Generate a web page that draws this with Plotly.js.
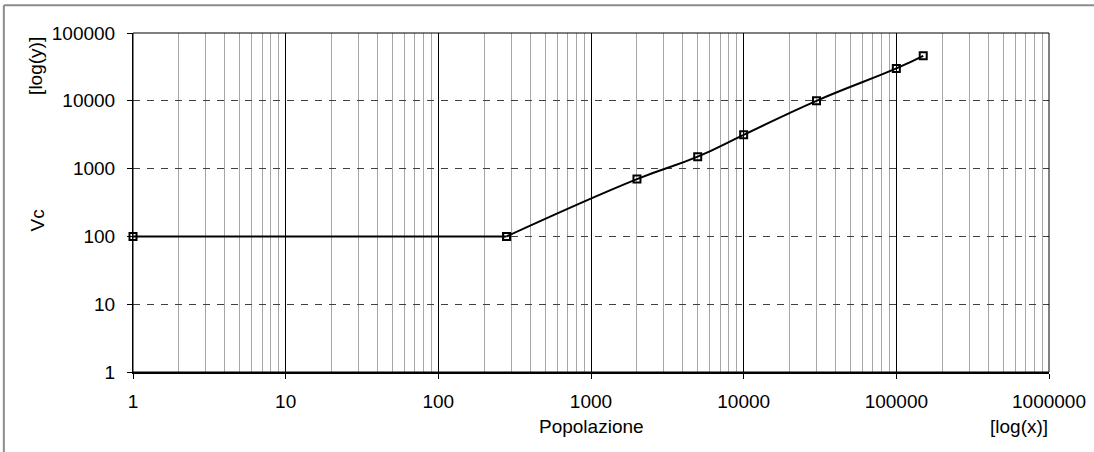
<!DOCTYPE html>
<html>
<head>
<meta charset="utf-8">
<script src="https://cdn.plot.ly/plotly-3.0.1.min.js"></script>
<style>
  html, body { margin: 0; padding: 0; background: #fff; }
  #chart { width: 1094px; height: 452px; }
</style>
</head>
<body>
<div id="chart"></div>
<script>
// Popolazione (abitanti) e valore Vc corrispondente
const popolazione = [1, 280, 2000, 5000, 10000, 30000, 100000, 150000];
const vc = [100, 100, 700, 1500, 3150, 10000, 30000, 46000];

// Etichette degli assi
const xTitle = 'Popolazione';
const xScaleNote = '[log(x)]';
const yTitle = 'Vc';
const yScaleNote = '[log(y)]';

const FONT = '"Liberation Sans", Arial, Helvetica, sans-serif';
const FS = 19;

// Tratto costante (fino alla soglia) e tratto crescente, raccordato con spline
const flatX = popolazione.slice(0, 2), flatY = vc.slice(0, 2);
const riseX = popolazione.slice(1), riseY = vc.slice(1);

const markerStyle = {
  symbol: 'square-open', size: 7, color: '#000',
  line: { color: '#000', width: 2 }
};

const traces = [
  {
    x: flatX, y: flatY, type: 'scatter', mode: 'lines+markers',
    line: { color: '#000', width: 2 }, marker: markerStyle,
    hoverinfo: 'x+y', showlegend: false, cliponaxis: false
  },
  {
    x: riseX, y: riseY, type: 'scatter', mode: 'lines+markers',
    line: { color: '#000', width: 2, shape: 'spline', smoothing: 1.3 },
    marker: markerStyle,
    hoverinfo: 'x+y', showlegend: false, cliponaxis: false
  }
];

const layout = {
  width: 1094, height: 452,
  margin: { l: 133, r: 45, t: 33, b: 80 },
  paper_bgcolor: '#fff', plot_bgcolor: '#fff',
  font: { family: FONT, size: FS, color: '#000' },
  showlegend: false,
  xaxis: {
    type: 'log', range: [0, 6], dtick: 1, tickformat: 'd',
    showgrid: true, gridcolor: '#000', gridwidth: 1,
    minor: { dtick: 'D1', showgrid: true, gridcolor: '#a6a6a6', gridwidth: 1, ticks: '' },
    showline: true, linecolor: '#000', linewidth: 2,
    ticks: 'outside', ticklen: 5, tickcolor: '#000', tickwidth: 1,
    ticklabelstandoff: 6,
    zeroline: false, fixedrange: true
  },
  yaxis: {
    type: 'log', range: [0, 5], dtick: 1, tickformat: 'd',
    showgrid: true, gridcolor: '#404040', gridwidth: 1, griddash: '7px,7px',
    showline: true, linecolor: '#000', linewidth: 1,
    ticks: 'outside', ticklen: 5, tickcolor: '#000', tickwidth: 1,
    ticklabelstandoff: 8,
    zeroline: false, fixedrange: true
  },
  shapes: [
    // cornice dell'area del grafico
    { type: 'rect', xref: 'paper', yref: 'paper', x0: 0, x1: 1, y0: 0, y1: 1,
      line: { color: '#000', width: 1 }, layer: 'above' },
    // bordo esterno (lati superiore e sinistro)
    { type: 'line', xref: 'paper', yref: 'paper', x0: -0.141, x1: 1.06, y0: 1.082, y1: 1.082,
      line: { color: '#8c8c8c', width: 2 } },
    { type: 'line', xref: 'paper', yref: 'paper', x0: -0.141, x1: -0.141, y0: 1.082, y1: -0.25,
      line: { color: '#8c8c8c', width: 2 } }
  ],
  annotations: [
    { text: xTitle, xref: 'paper', yref: 'paper', x: 0.5, y: -0.162,
      xanchor: 'center', yanchor: 'middle', showarrow: false, font: { size: FS } },
    { text: xScaleNote, xref: 'paper', yref: 'paper', x: 1.001, y: -0.162,
      xanchor: 'right', yanchor: 'middle', showarrow: false, font: { size: FS } },
    { text: yTitle, xref: 'paper', yref: 'paper', x: -0.1045, y: 0.448,
      xanchor: 'center', yanchor: 'middle', textangle: -90, showarrow: false, font: { size: FS } },
    { text: yScaleNote, xref: 'paper', yref: 'paper', x: -0.106, y: 0.9027,
      xanchor: 'center', yanchor: 'middle', textangle: -90, showarrow: false, font: { size: FS } }
  ]
};

Plotly.newPlot('chart', traces, layout, { staticPlot: true, displayModeBar: false });
</script>
</body>
</html>
